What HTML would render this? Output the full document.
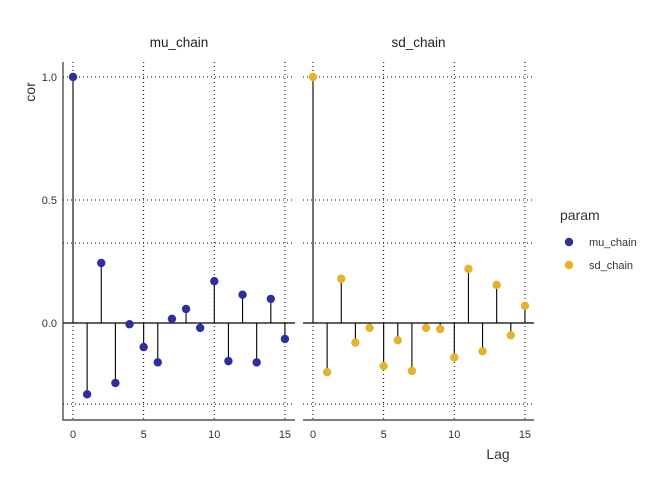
<!DOCTYPE html>
<html><head><meta charset="utf-8"><style>
body{margin:0;background:#fff;}
svg{display:block;font-family:"Liberation Sans",sans-serif;}
</style></head><body>
<svg id="c" width="672" height="480"></svg>
<script>
const lags=[0,1,2,3,4,5,6,7,8,9,10,11,12,13,14,15];
const muVals=[1,-0.29,0.244,-0.244,-0.005,-0.098,-0.16,0.017,0.057,-0.02,0.17,-0.155,0.115,-0.16,0.098,-0.065];
const sdVals=[1,-0.2,0.18,-0.08,-0.02,-0.175,-0.07,-0.195,-0.02,-0.025,-0.14,0.22,-0.115,0.155,-0.05,0.07];
const yTicks=[0,0.5,1];
const yTickLabels=["0.0","0.5","1.0"];
const xTicks=[0,5,10,15];
const ciVals=[0.325,-0.33];
const NS="http://www.w3.org/2000/svg";
const svg=document.getElementById('c');
function el(t,a,p){const e=document.createElementNS(NS,t);for(const k in a)e.setAttribute(k,a[k]);(p||svg).appendChild(e);return e;}
const y=v=>323-v*246;
const panels=[{x0:63,x1:295,lx:73,title:"mu_chain",vals:muVals,col:"#2e2e9f",name:"mu-chain"},
{x0:303,x1:534,lx:313,title:"sd_chain",vals:sdVals,col:"#e0b52b",name:"sd-chain"}];
panels.forEach((p,pi)=>{
  const g=el('g',{});
  
  
  const x=v=>p.lx+v*14.13;
  yTicks.forEach(t=>{const l=el('line',{x1:p.x0,x2:p.x1,y1:y(t),y2:y(t),stroke:'#000','stroke-dasharray':'1,3','stroke-width':1},g);
    });
  ciVals.forEach(t=>{const l=el('line',{x1:p.x0,x2:p.x1,y1:y(t),y2:y(t),stroke:'#000','stroke-dasharray':'1,3','stroke-width':1},g);
    });
  xTicks.forEach(t=>{const l=el('line',{x1:x(t),x2:x(t),y1:62,y2:420,stroke:'#000','stroke-dasharray':'1,3','stroke-width':1},g);
    
    const tx=el('text',{x:x(t),y:438,'text-anchor':'middle','font-size':11,fill:'#333'},g);tx.textContent=t;
    });
  const z=el('line',{x1:p.x0,x2:p.x1,y1:y(0),y2:y(0),stroke:'#000','stroke-width':1.2},g);
  
  const ax=el('path',{d:pi===0?`M${p.x0},62V420H${p.x1}`:`M${p.x0},420H${p.x1}`,fill:'none',stroke:'#333','stroke-width':1.2},g);
  
  lags.forEach((l,i)=>{
    const s=el('line',{x1:x(l),x2:x(l),y1:y(0),y2:y(p.vals[i]),stroke:'#000','stroke-width':1.1},g);
    
    const c=el('circle',{cx:x(l),cy:y(p.vals[i]),r:4.2,fill:p.col},g);
    
  });
  const t=el('text',{x:(p.x0+p.x1)/2,y:47,'text-anchor':'middle','font-size':13.5,fill:'#222'},g);
  t.textContent=p.title;
  if(pi===0){yTicks.forEach((v,i)=>{const tx=el('text',{x:57,y:y(v)+4,'text-anchor':'end','font-size':11,fill:'#333'},g);
    tx.textContent=yTickLabels[i];});}
});
let t=el('text',{x:0,y:0,'font-size':14,fill:'#333',transform:'translate(35,92) rotate(-90)','text-anchor':'middle'});t.textContent='cor';

t=el('text',{x:498,y:459,'font-size':14,fill:'#333','text-anchor':'middle'});t.textContent='Lag';

t=el('text',{x:560,y:220,'font-size':14,fill:'#333'});t.textContent='param';

[["mu_chain","#2e2e9f",242],["sd_chain","#e0b52b",265]].forEach(d=>{
  const c=el('circle',{cx:569,cy:d[2],r:4.2,fill:d[1]});
  const tx=el('text',{x:589,y:d[2]+4,'font-size':11,fill:'#333'});tx.textContent=d[0];
  
});
</script>
</body></html>
